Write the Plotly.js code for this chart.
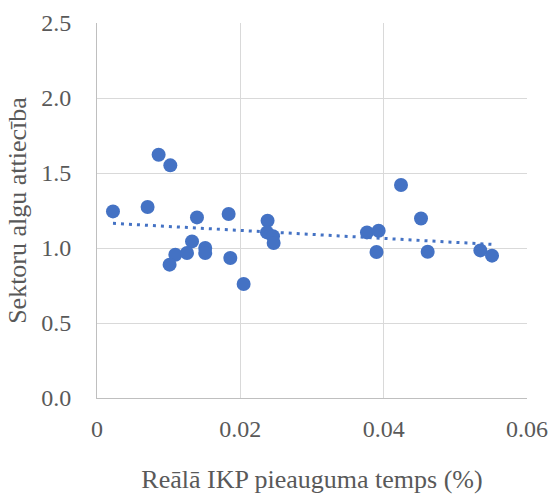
<!DOCTYPE html>
<html>
<head>
<meta charset="utf-8">
<script src="https://cdn.plot.ly/plotly-3.0.1.min.js"></script>
<style>
html,body{margin:0;padding:0;background:#fff;}
#chart{width:552px;height:495px;}
</style>
</head>
<body>
<div id="chart"></div>
<script>
const growthRate = [0.00223, 0.0086, 0.01023, 0.00706, 0.01395, 0.01837, 0.0238, 0.02372, 0.02456, 0.02465,
  0.01326, 0.01093, 0.01256, 0.01013, 0.0151, 0.0151, 0.0186, 0.02046, 0.03767, 0.0393,
  0.039, 0.04242, 0.04521, 0.04614, 0.05349, 0.05512];
const wageRatio = [1.244, 1.622, 1.551, 1.273, 1.204, 1.227, 1.182, 1.104, 1.078, 1.033,
  1.044, 0.955, 0.967, 0.889, 1.0, 0.967, 0.933, 0.76, 1.104, 1.115,
  0.973, 1.42, 1.197, 0.975, 0.984, 0.949];
const xTicks = [0, 0.02, 0.04, 0.06];
const xTickLabels = ['0', '0.02', '0.04', '0.06'];
const yTicks = [0, 0.5, 1.0, 1.5, 2.0, 2.5];
const yTickLabels = ['0.0', '0.5', '1.0', '1.5', '2.0', '2.5'];
const xTitle = 'Reālā IKP pieauguma temps (%)';
const yTitle = 'Sektoru algu attiecība';

// linear least-squares trendline from the data
const n = growthRate.length;
const mx = growthRate.reduce((a, b) => a + b, 0) / n;
const my = wageRatio.reduce((a, b) => a + b, 0) / n;
let sxy = 0, sxx = 0;
for (let i = 0; i < n; i++) {
  sxy += (growthRate[i] - mx) * (wageRatio[i] - my);
  sxx += (growthRate[i] - mx) ** 2;
}
const slope = sxy / sxx;
const intercept = my - slope * mx;
const xMin = Math.min(...growthRate), xMax = Math.max(...growthRate);
const trendX = [xMin, xMax];
const trendY = trendX.map(v => intercept + slope * v);

const FAM = 'Liberation Serif';
const GREY = '#595959';

const data = [
  {
    x: growthRate, y: wageRatio, type: 'scatter', mode: 'markers',
    marker: {color: '#4472C4', size: 14, line: {width: 0}},
    showlegend: false, hoverinfo: 'x+y'
  },
  {
    x: trendX, y: trendY, type: 'scatter', mode: 'lines',
    line: {color: '#4472C4', width: 3, dash: '3px,5px'},
    showlegend: false, hoverinfo: 'skip'
  }
];

const layout = {
  width: 552, height: 495,
  margin: {l: 97, r: 25, t: 23, b: 97},
  paper_bgcolor: '#ffffff', plot_bgcolor: '#ffffff',
  xaxis: {
    range: [0, 0.06], tickvals: xTicks, ticktext: xTickLabels,
    showgrid: true, gridcolor: '#d9d9d9', gridwidth: 1,
    zeroline: false, showline: true, linecolor: '#bfbfbf', linewidth: 1,
    ticks: 'outside', ticklen: 9, tickcolor: 'rgba(0,0,0,0)',
    tickfont: {family: FAM, size: 24, color: GREY},
    title: {text: xTitle, font: {family: FAM, size: 26, color: GREY}, standoff: 29},
    fixedrange: true
  },
  yaxis: {
    range: [0, 2.5], tickvals: yTicks, ticktext: yTickLabels,
    showgrid: true, gridcolor: '#d9d9d9', gridwidth: 1,
    zeroline: false, showline: true, linecolor: '#bfbfbf', linewidth: 1,
    ticks: 'outside', ticklen: 20, tickcolor: 'rgba(0,0,0,0)',
    tickfont: {family: FAM, size: 24, color: GREY},
    title: {text: yTitle, font: {family: FAM, size: 26, color: GREY}, standoff: 7},
    fixedrange: true
  }
};

Plotly.newPlot('chart', data, layout, {displayModeBar: false, staticPlot: true});
</script>
</body>
</html>
